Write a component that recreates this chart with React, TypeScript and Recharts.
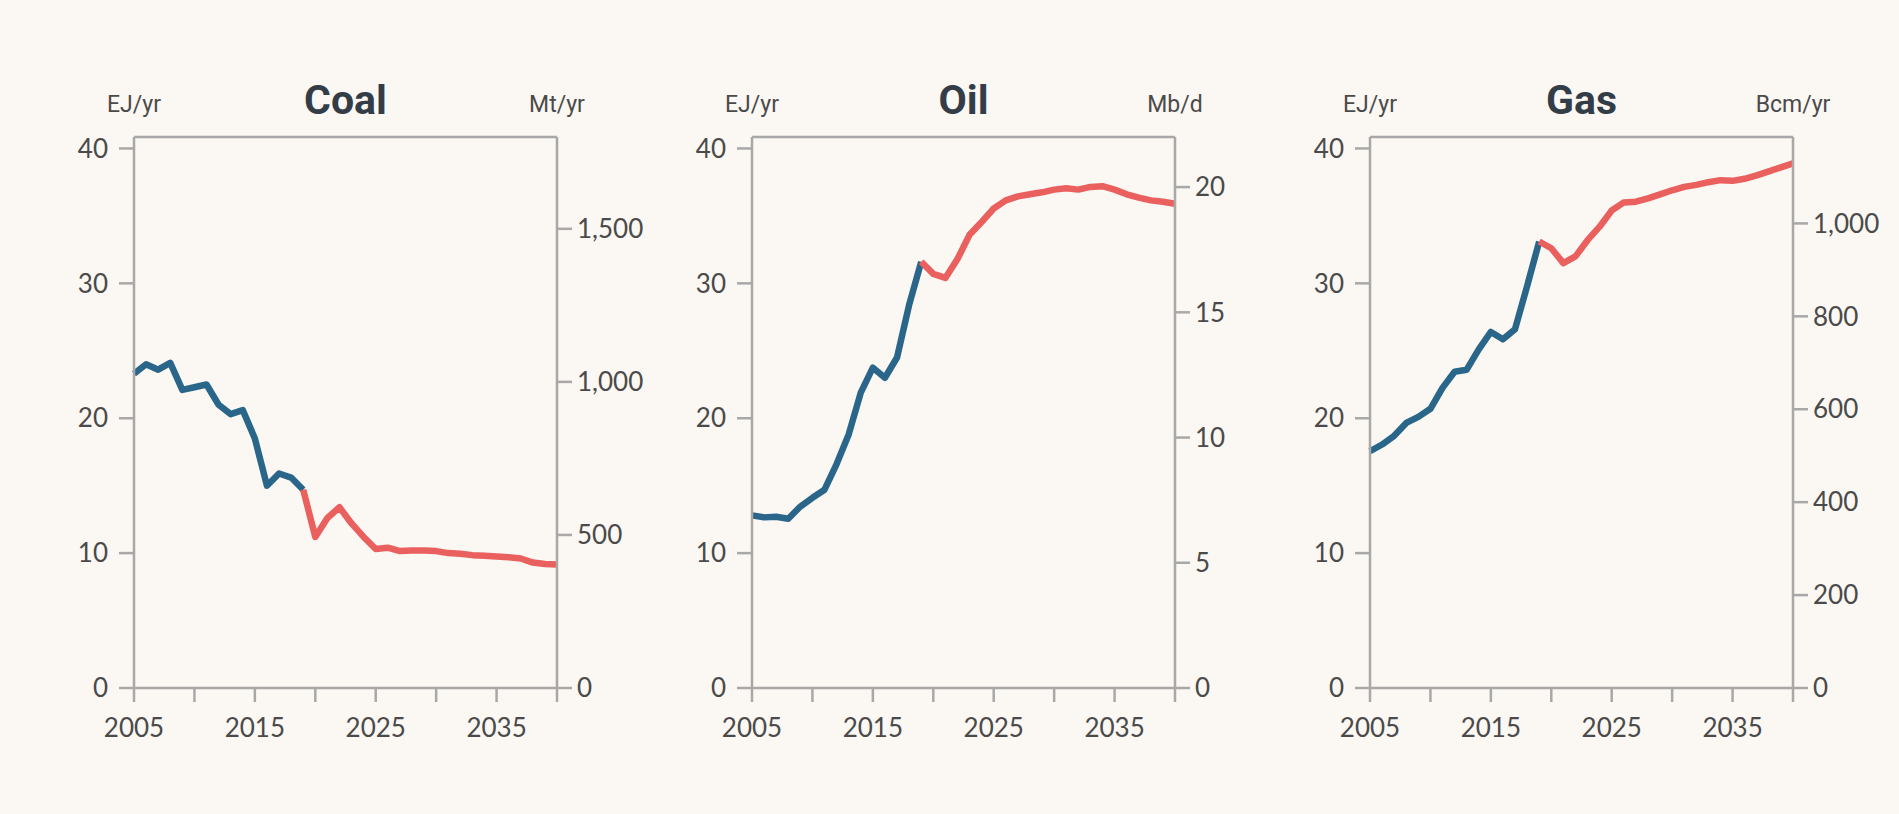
import { LineChart, Line, XAxis, YAxis, ReferenceLine } from 'recharts';

// years on the x axis
const years = [
  2005, 2006, 2007, 2008, 2009, 2010, 2011, 2012, 2013, 2014, 2015, 2016,
  2017, 2018, 2019, 2020, 2021, 2022, 2023, 2024, 2025, 2026, 2027, 2028,
  2029, 2030, 2031, 2032, 2033, 2034, 2035, 2036, 2037, 2038, 2039, 2040,
];

// last year of history (blue); projection (red) starts here
const LAST_HIST = 2019;

// EJ/yr
const coalEJ = [
  23.3, 24.0, 23.6, 24.1, 22.1, 22.3, 22.5, 21.0, 20.3, 20.6, 18.5, 15.0,
  15.9, 15.6, 14.7, 11.2, 12.6, 13.4, 12.2, 11.2, 10.3, 10.4, 10.15, 10.2,
  10.2, 10.15, 10.0, 9.95, 9.85, 9.8, 9.75, 9.7, 9.6, 9.3, 9.2, 9.15,
];
const oilEJ = [
  12.8, 12.65, 12.7, 12.55, 13.45, 14.1, 14.7, 16.6, 18.8, 21.9, 23.75, 23.0,
  24.5, 28.4, 31.6, 30.7, 30.4, 31.8, 33.6, 34.55, 35.55, 36.15, 36.45, 36.6,
  36.75, 36.95, 37.05, 36.95, 37.15, 37.2, 36.95, 36.6, 36.35, 36.15, 36.05, 35.9,
];
const gasEJ = [
  17.55, 18.05, 18.7, 19.65, 20.1, 20.7, 22.25, 23.45, 23.6, 25.1, 26.4, 25.85,
  26.6, 29.8, 33.1, 32.6, 31.5, 32.0, 33.2, 34.2, 35.4, 36.0, 36.05, 36.3,
  36.6, 36.9, 37.15, 37.3, 37.5, 37.65, 37.6, 37.75, 38.0, 38.3, 38.6, 38.9,
];

// tick values
const xTicks = [2005, 2010, 2015, 2020, 2025, 2030, 2035, 2040];
const xLabels = [2005, 2015, 2025, 2035];
const leftTicks = [0, 10, 20, 30, 40];
const coalRightTicks = [0, 500, 1000, 1500];
const oilRightTicks = [0, 5, 10, 15, 20];
const gasRightTicks = [0, 200, 400, 600, 800, 1000];

const LEFT_MAX = 40.85;

const BG = '#fbf7f2';
const BLUE = '#2a6689';
const RED = '#e9605e';
const AXIS = '#a8a8a8';
const TEXT = '#4a4a4a';
const TICK_FONT = 'Lato, sans-serif';

function buildRows(values: number[]) {
  return years.map((year, i) => ({
    year,
    hist: year <= LAST_HIST ? values[i] : null,
    proj: year >= LAST_HIST ? values[i] : null,
  }));
}

const tickStyle = { fill: TEXT, fontSize: 26, fontFamily: TICK_FONT };

type PanelProps = {
  left: number;
  title: string;
  rightUnit: string;
  values: number[];
  rightMax: number;
  rightTicks: number[];
};

const PLOT_W = 423;
const AXIS_W = 100;
const TOP = 137;
const PLOT_H = 551;
const X_H = 76;

function Panel({ left, title, rightUnit, values, rightMax, rightTicks }: PanelProps) {
  const data = buildRows(values);
  const plotLeft = left + AXIS_W;
  const unitStyle = {
    position: 'absolute' as const,
    width: 120,
    top: 93,
    textAlign: 'center' as const,
    fontFamily: 'Roboto, sans-serif',
    fontSize: 23,
    lineHeight: '23px',
    color: TEXT,
  };
  return (
    <>
      <div
        style={{
          position: 'absolute',
          left: plotLeft,
          width: PLOT_W,
          top: 80,
          textAlign: 'center',
          fontFamily: 'Roboto, sans-serif',
          fontWeight: 700,
          fontSize: 41,
          lineHeight: '41px',
          color: '#333d47',
        }}
      >
        {title}
      </div>
      <div style={{ ...unitStyle, left: plotLeft - 60 }}>EJ/yr</div>
      <div style={{ ...unitStyle, left: plotLeft + PLOT_W - 60 }}>{rightUnit}</div>
      <div style={{ position: 'absolute', left, top: 0 }}>
        <LineChart
          width={AXIS_W * 2 + PLOT_W}
          height={TOP + PLOT_H + X_H}
          data={data}
          margin={{ top: TOP, right: 0, bottom: 0, left: 0 }}
        >
          <XAxis
            dataKey="year"
            type="number"
            domain={[2005, 2040]}
            ticks={xTicks}
            tickFormatter={(v: number) => (xLabels.includes(v) ? String(v) : '')}
            height={X_H}
            tickSize={14}
            tickMargin={17}
            tick={tickStyle}
            axisLine={{ stroke: AXIS, strokeWidth: 2.5 }}
            tickLine={{ stroke: AXIS, strokeWidth: 2.5 }}
          />
          <YAxis
            yAxisId="left"
            orientation="left"
            domain={[0, LEFT_MAX]}
            allowDataOverflow
            ticks={leftTicks}
            width={AXIS_W}
            tickSize={15}
            tickMargin={11}
            tick={tickStyle}
            axisLine={{ stroke: AXIS, strokeWidth: 2.5 }}
            tickLine={{ stroke: AXIS, strokeWidth: 2.5 }}
          />
          <YAxis
            yAxisId="right"
            orientation="right"
            type="number"
            domain={[0, rightMax]}
            allowDataOverflow
            ticks={rightTicks}
            width={AXIS_W}
            tickSize={15}
            tickMargin={5}
            tick={tickStyle}
            tickFormatter={(v: number) => v.toLocaleString('en-US')}
            axisLine={{ stroke: AXIS, strokeWidth: 2.5 }}
            tickLine={{ stroke: AXIS, strokeWidth: 2.5 }}
          />
          <ReferenceLine yAxisId="right" y={rightMax} stroke={AXIS} strokeWidth={2.5} />
          <Line
            yAxisId="left"
            dataKey="hist"
            stroke={BLUE}
            strokeWidth={6.5}
            dot={false}
            isAnimationActive={false}
            strokeLinejoin="round"
          />
          <Line
            yAxisId="left"
            dataKey="proj"
            stroke={RED}
            strokeWidth={6.5}
            dot={false}
            isAnimationActive={false}
            strokeLinejoin="round"
          />
        </LineChart>
      </div>
    </>
  );
}

export default function App() {
  return (
    <div
      style={{
        position: 'absolute',
        left: 0,
        top: 0,
        width: 1899,
        height: 814,
        background: BG,
        overflow: 'hidden',
      }}
    >
      <Panel left={34} title="Coal" rightUnit="Mt/yr" values={coalEJ} rightMax={1800} rightTicks={coalRightTicks} />
      <Panel left={652} title="Oil" rightUnit="Mb/d" values={oilEJ} rightMax={22} rightTicks={oilRightTicks} />
      <Panel left={1270} title="Gas" rightUnit="Bcm/yr" values={gasEJ} rightMax={1186} rightTicks={gasRightTicks} />
    </div>
  );
}
